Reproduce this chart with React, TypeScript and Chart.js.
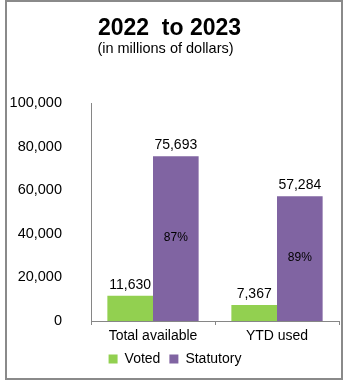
import React, { useEffect, useRef } from "react";
import { Chart, registerables } from "chart.js";

Chart.register(...registerables);

const categories = ["Total available", "YTD used"];
const votedValues = [11630, 7367];
const statutoryValues = [75693, 57284];
const percentLabels = ["87%", "89%"];
const yTicks = [0, 20000, 40000, 60000, 80000, 100000];

const FONT = '"Liberation Sans", Arial, sans-serif';
const GREEN = "#92D050";
const PURPLE = "#8064A2";
const AXIS = "#868686";

const fmt = (v: number) => String(Math.round(v)).replace(/\B(?=(\d{3})+(?!\d))/g, ",");

const barLabels = {
  id: "barLabels",
  afterDatasetsDraw(chart: any) {
    const ctx = chart.ctx;
    chart.data.datasets.forEach((ds: any, di: number) => {
      const meta = chart.getDatasetMeta(di);
      meta.data.forEach((bar: any, i: number) => {
        ctx.save();
        ctx.fillStyle = "#000";
        ctx.textAlign = "center";
        ctx.font = `14px ${FONT}`;
        ctx.textBaseline = "alphabetic";
        ctx.fillText(fmt(ds.data[i]), bar.x, bar.y - 7);
        if (di === 1) {
          ctx.font = `12px ${FONT}`;
          ctx.textBaseline = "middle";
          ctx.fillText(percentLabels[i], bar.x, (bar.y + bar.base) / 2 - 1);
        }
        ctx.restore();
      });
    });
  },
};

const shiftLegend = {
  id: "shiftLegend",
  afterLayout(chart: any) {
    const lg = chart.legend;
    if (lg) {
      lg.left += 5.5;
      lg.right += 5.5;
      lg.top += 1.5;
      lg.bottom += 1.5;
    }
  },
};

export default function App() {
  const ref = useRef<HTMLCanvasElement>(null);
  useEffect(() => {
    if (!ref.current) return;
    Chart.defaults.font.family = FONT;
    Chart.defaults.color = "#000";
    const chart = new Chart(ref.current, {
      type: "bar",
      data: {
        labels: categories,
        datasets: [
          { label: "Voted", data: votedValues, backgroundColor: GREEN, categoryPercentage: 0.736, barPercentage: 1 },
          { label: "Statutory", data: statutoryValues, backgroundColor: PURPLE, categoryPercentage: 0.736, barPercentage: 1 },
        ],
      },
      options: {
        responsive: false,
        animation: false,
        layout: { padding: { left: 0, right: 4, top: 0, bottom: 5.5 } },
        plugins: {
          title: {
            display: true,
            text: "2022  to 2023",
            font: { size: 23, weight: "bold", lineHeight: 1 },
            color: "#000",
            padding: { top: 17, bottom: 0 },
          },
          subtitle: {
            display: true,
            text: "(in millions of dollars)  ",
            font: { size: 14.5, lineHeight: 1.2 },
            color: "#000",
            padding: { top: 0, bottom: 46 },
          },
          legend: {
            position: "bottom",
            labels: { boxWidth: 9, boxHeight: 9, padding: 9, font: { size: 14 }, color: "#000" },
          },
          tooltip: { enabled: false },
        },
        scales: {
          x: {
            offset: true,
            grid: { display: true, drawOnChartArea: false, drawTicks: true, tickLength: 4, offset: true, color: AXIS, lineWidth: 1 },
            border: { display: true, color: AXIS, width: 1 },
            ticks: { font: { size: 14 }, color: "#000", padding: 3, maxRotation: 0 },
            afterFit: (s: any) => { s.height = 20.5; },
          },
          y: {
            min: 0,
            max: 100000,
            afterBuildTicks: (s: any) => { s.ticks = yTicks.map((v) => ({ value: v })); },
            grid: { display: false, drawTicks: false },
            border: { display: true, color: AXIS, width: 1 },
            ticks: { font: { size: 14.5 }, color: "#000", padding: 29, callback: (v: any) => fmt(Number(v)) },
            afterFit: (s: any) => { s.width = 91; },
          },
        },
      },
      plugins: [barLabels, shiftLegend],
    } as any);
    return () => chart.destroy();
  }, []);
  return (
    <div style={{ position: "absolute", left: 0, top: 0, width: 343, height: 380, background: "#fff" }}>
      <div style={{ position: "absolute", left: 5, top: 0, width: 338, height: 380, border: "2px solid #8a8a8a", boxSizing: "border-box" }} />
      <canvas ref={ref} width={343} height={380} style={{ position: "absolute", left: 0, top: 0, width: 343, height: 380 }} />
    </div>
  );
}
